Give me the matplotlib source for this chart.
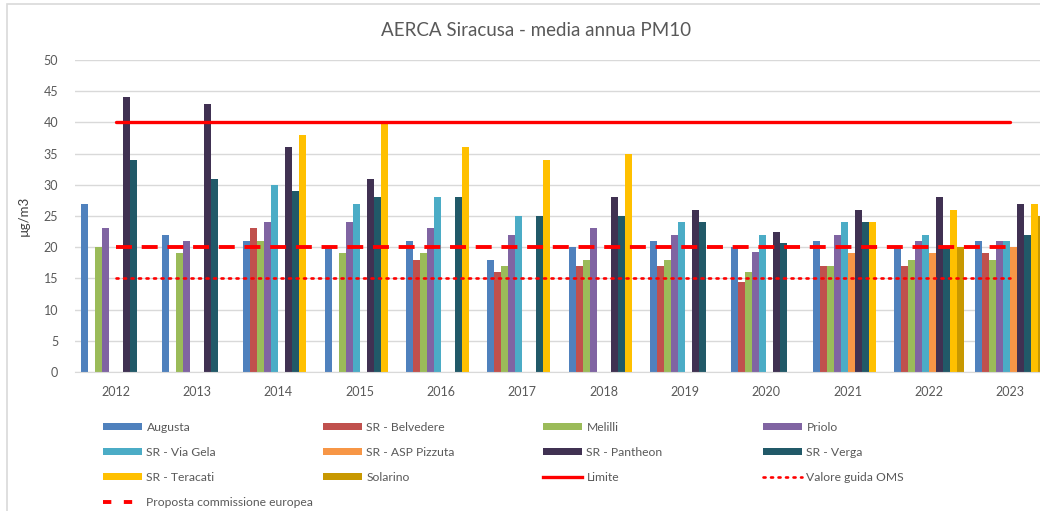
import matplotlib
matplotlib.use("Agg")
import matplotlib.pyplot as plt
import numpy as np
from matplotlib.patches import Rectangle, Patch
from matplotlib.lines import Line2D

plt.rcParams['font.family'] = ['Lato', 'DejaVu Sans']
plt.rcParams['lines.scale_dashes'] = False

years = ['2012', '2013', '2014', '2015', '2016', '2017', '2018', '2019', '2020', '2021', '2022', '2023']

# medie annue PM10 (None = dato mancante)
augusta = [27, 22, 21, 20, 21, 18, 20, 21, 20, 21, 20, 21]
belvedere = [None, None, 23, None, 18, 16, 17, 17, 14.5, 17, 17, 19]
melilli = [20, 19, 21, 19, 19, 17, 18, 18, 16, 17, 18, 18]
priolo = [23, 21, 24, 24, 23, 22, 23, 22, 19.3, 22, 21, 21]
via_gela = [None, None, 30, 27, 28, 25, None, 24, 22, 24, 22, 21]
asp_pizzuta = [None, None, None, None, None, None, None, None, None, 19, 19, 20]
pantheon = [44, 43, 36, 31, None, None, 28, 26, 22.4, 26, 28, 27]
verga = [34, 31, 29, 28, 28, 25, 25, 24, 20.7, 24, 20, 22]
teracati = [None, None, 38, 40, 36, 34, 35, None, None, 24, 26, 27]
solarino = [None, None, None, None, None, None, None, None, None, None, 20, 25]

limite = [40] * 12
proposta_ue = [20] * 12
guida_oms = [15] * 12

series = [
    ('Augusta', augusta, '#4F81BD'),
    ('SR - Belvedere', belvedere, '#C0504D'),
    ('Melilli', melilli, '#9BBB59'),
    ('Priolo', priolo, '#8064A2'),
    ('SR - Via Gela', via_gela, '#4BACC6'),
    ('SR - ASP Pizzuta', asp_pizzuta, '#F79646'),
    ('SR - Pantheon', pantheon, '#403152'),
    ('SR - Verga', verga, '#215968'),
    ('SR - Teracati', teracati, '#FFC000'),
    ('Solarino', solarino, '#C89800'),
]

grey = '#595959'
W, H = 1040, 511
fig = plt.figure(figsize=(W / 100, H / 100), dpi=100)

# bordo dell'area grafico
fig.patches.append(Rectangle((7 / W, -0.1), 1.2, (511 - 4) / H + 0.1, transform=fig.transFigure,
                             fill=False, edgecolor='#D9D9D9', linewidth=1.2))

ax = fig.add_axes([75 / W, (H - 372) / H, (1051 - 75) / W, (372 - 60) / H])

x = np.arange(len(years))
bw = 0.086
handles = {}
for k, (name, vals, col) in enumerate(series):
    v = np.array([np.nan if a is None else a for a in vals], dtype=float)
    ax.bar(x + (k - 4.5) * bw, v, width=bw, color=col, zorder=2)
    handles[name] = Patch(facecolor=col, label=name)

ax.plot(x, limite, color='#FF0000', lw=2.4, zorder=3, solid_capstyle='round')
ax.plot(x, proposta_ue, color='#FF0000', lw=2.8, zorder=3, dashes=(11.5, 7))
ax.plot(x, guida_oms, color='#FF0000', lw=1.9, zorder=3, dashes=(1.5, 3.9), dash_capstyle='round')

handles['Limite'] = Line2D([], [], color='#FF0000', lw=2.4)
handles['Valore guida OMS'] = Line2D([], [], color='#FF0000', lw=1.9, dashes=(1.5, 3.9), dash_capstyle='round')
handles['Proposta commissione europea'] = Line2D([], [], color='#FF0000', lw=2.8, dashes=(6, 9))

ax.set_xlim(-0.5, 11.5)
ax.set_ylim(0, 50)
ax.set_yticks(range(0, 51, 5))
ax.set_xticks(x)
ax.set_xticklabels(years)
ax.tick_params(axis='both', length=0, colors=grey, labelsize=9)
ax.tick_params(axis='x', pad=10)
ax.tick_params(axis='y', pad=12)
ax.grid(axis='y', color='#D9D9D9', lw=1, zorder=0)
for s in ['top', 'right', 'left']:
    ax.spines[s].set_visible(False)
ax.spines['bottom'].set_color('#D9D9D9')
ax.set_ylabel('µg/m3', color='#404040', fontsize=9.5, labelpad=10)

fig.text(536 / W, 1 - 30 / H, 'AERCA Siracusa - media annua PM10', ha='center', va='center',
         fontsize=13.5, color=grey)

# legenda su 4 colonne
cols = [
    ['Augusta', 'SR - Via Gela', 'SR - Teracati', 'Proposta commissione europea'],
    ['SR - Belvedere', 'SR - ASP Pizzuta', 'Solarino'],
    ['Melilli', 'SR - Pantheon', 'Limite'],
    ['Priolo', 'SR - Verga', 'Valore guida OMS'],
]
col_x = [103, 323, 543, 763]
for cx, names in zip(col_x, cols):
    fig.legend([handles[n] for n in names], names, loc='upper left',
               bbox_to_anchor=(cx / W, 1 - 422 / H), frameon=False, fontsize=8.7,
               labelcolor=grey, handlelength=3.2, handleheight=0.45, handletextpad=0.4,
               labelspacing=1.15, borderpad=0, borderaxespad=0)

fig.savefig('out.png', dpi=100)
